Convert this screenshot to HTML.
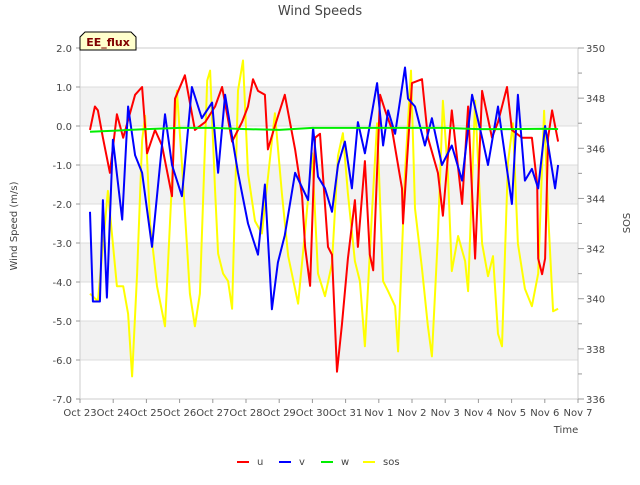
<!DOCTYPE html>
<html><head><meta charset="utf-8"><style>
body{margin:0;background:#fff;}
svg text{font-family:"DejaVu Sans","Liberation Sans",sans-serif;}
</style></head><body>
<svg id="chart" width="640" height="480" xmlns="http://www.w3.org/2000/svg">
<rect width="640" height="480" fill="#fff"/>
<g id="bands"></g>
<g id="grid"></g>
<rect x="80" y="48" width="498" height="351" fill="none" stroke="#ccc"/>
<g id="axes"></g>
<g id="series"></g>
<text x="320" y="15" text-anchor="middle" font-size="13" fill="#444">Wind Speeds</text>
<text transform="translate(17,226) rotate(-90)" text-anchor="middle" font-size="10" fill="#444">Wind Speed (m/s)</text>
<text transform="translate(630,223) rotate(-90)" text-anchor="middle" font-size="10" fill="#444">SOS</text>
<text x="566" y="433" text-anchor="middle" font-size="10" fill="#444">Time</text>
<g>
<path d="M80,50 L80,37 L85,32 L131,32 L136,37 L136,50 Z" fill="#ffffcc" stroke="#000"/>
<text x="108" y="46" text-anchor="middle" font-size="11" font-weight="bold" fill="#800000">EE_flux</text>
</g>
<g id="legend"></g>
</svg>
<script>
const xTickLabels=["Oct 23","Oct 24","Oct 25","Oct 26","Oct 27","Oct 28","Oct 29","Oct 30","Oct 31","Nov 1","Nov 2","Nov 3","Nov 4","Nov 5","Nov 6","Nov 7"];
const yTicks=[2,1,0,-1,-2,-3,-4,-5,-6,-7];
const y2Ticks=[336,338,340,342,344,346,348,350];
const uT=[0.30,0.45,0.54,0.69,0.90,1.11,1.30,1.66,1.87,2.02,2.26,2.47,2.77,2.86,3.16,3.46,3.77,4.07,4.28,4.58,4.88,5.06,5.21,5.36,5.57,5.66,5.87,6.17,6.48,6.69,6.78,6.93,7.08,7.23,7.47,7.59,7.74,7.89,8.07,8.28,8.37,8.58,8.73,8.83,9.04,9.19,9.40,9.70,9.73,10.0,10.30,10.48,10.78,10.93,11.20,11.51,11.69,11.90,12.11,12.41,12.59,12.86,13.01,13.31,13.61,13.77,13.80,13.92,14.01,14.10,14.22,14.40];
const uV=[-0.1,0.5,0.4,-0.3,-1.2,0.3,-0.3,0.8,1.0,-0.7,-0.1,-0.5,-1.8,0.7,1.3,-0.1,0.1,0.5,1.0,-0.4,0.1,0.5,1.2,0.9,0.8,-0.6,0.0,0.8,-0.6,-1.8,-3.1,-4.1,-0.3,-0.2,-3.1,-3.3,-6.3,-5.1,-3.4,-1.9,-3.1,-0.9,-3.3,-3.7,0.8,0.4,-0.1,-1.6,-2.5,1.1,1.2,-0.3,-1.2,-2.3,0.4,-2.0,0.5,-3.4,0.9,-0.3,0.1,1.0,-0.1,-0.3,-0.3,-1.5,-3.4,-3.8,-3.4,-0.3,0.4,-0.4];
const vT=[0.30,0.39,0.60,0.69,0.81,0.99,1.27,1.45,1.66,1.87,2.17,2.56,2.77,3.07,3.37,3.67,3.98,4.16,4.37,4.76,5.06,5.36,5.57,5.78,5.96,6.17,6.48,6.87,7.02,7.17,7.38,7.59,7.77,7.98,8.19,8.37,8.58,8.95,9.13,9.28,9.49,9.79,9.88,10.09,10.39,10.60,10.90,11.20,11.51,11.81,12.11,12.29,12.59,13.01,13.19,13.40,13.61,13.80,14.01,14.31,14.40];
const vV=[-2.2,-4.5,-4.5,-1.9,-4.4,-0.35,-2.4,0.5,-0.75,-1.2,-3.1,0.3,-1.0,-1.8,1.0,0.2,0.6,-1.2,0.8,-1.2,-2.5,-3.3,-1.5,-4.7,-3.5,-2.8,-1.2,-1.9,-0.05,-1.3,-1.6,-2.2,-1.0,-0.4,-1.6,0.1,-0.7,1.1,-0.5,0.4,-0.2,1.5,0.7,0.5,-0.5,0.2,-1.0,-0.5,-1.4,0.8,-0.3,-1.0,0.5,-2.0,0.8,-1.4,-1.1,-1.6,0.0,-1.6,-1.0];
const wT=[0.3,1,2,3,4,5,6,7,8,9,10,11,12,13,14,14.4];
const wV=[-0.15,-0.12,-0.08,-0.05,-0.05,-0.08,-0.1,-0.05,-0.05,-0.05,-0.05,-0.05,-0.08,-0.08,-0.07,-0.08];
const sT=[0.30,0.54,0.84,1.11,1.30,1.45,1.57,1.72,1.87,1.96,2.11,2.32,2.56,2.77,2.92,3.07,3.31,3.46,3.61,3.83,3.92,4.07,4.16,4.31,4.46,4.58,4.76,4.91,5.06,5.27,5.48,5.78,5.87,6.08,6.27,6.57,6.78,6.99,7.17,7.38,7.59,7.77,7.92,8.07,8.28,8.43,8.58,8.80,8.95,9.13,9.28,9.49,9.58,9.79,9.97,10.09,10.30,10.48,10.60,10.78,10.93,11.08,11.20,11.39,11.60,11.69,11.90,12.11,12.29,12.44,12.59,12.71,12.89,13.04,13.19,13.40,13.61,13.80,13.98,14.10,14.25,14.40];
const sV=[340.2,339.9,344.3,340.5,340.5,339.4,336.9,341.0,346.3,347.3,343.0,340.5,338.9,344.7,348.3,345.4,340.2,338.9,340.2,348.7,349.1,344.3,341.8,341.0,340.7,339.6,348.3,349.5,345.0,343.1,342.6,346.3,347.4,344.2,341.7,339.8,342.7,345.8,341.0,340.1,341.4,345.7,346.6,344.2,341.5,340.7,338.1,343.6,347.0,340.7,340.3,339.7,337.9,345.0,349.1,343.6,341.2,338.9,337.7,342.5,347.9,345.0,341.1,342.5,341.5,340.3,347.9,342.2,340.9,341.7,338.6,338.1,345.4,347.0,342.2,340.4,339.7,341.0,347.5,343.4,339.5,339.6];

const NS="http://www.w3.org/2000/svg";
const X0=80,X1=578,Y0=48,Y1=399;
const xs=d=>X0+d*(X1-X0)/15;
const ys=v=>Y0+(2-v)*(Y1-Y0)/9;
const ys2=v=>Y0+(350-v)*(Y1-Y0)/14;
function mk(tag,attrs,parent){const e=document.createElementNS(NS,tag);for(const k in attrs)e.setAttribute(k,attrs[k]);parent.appendChild(e);return e;}
const bands=document.getElementById('bands'),grid=document.getElementById('grid'),axes=document.getElementById('axes'),series=document.getElementById('series'),legend=document.getElementById('legend');
[1,-1,-3,-5].forEach(v=>{const r=mk('rect',{x:X0,y:ys(v),width:X1-X0,height:ys(v-1)-ys(v),fill:'#f2f2f2'},bands);

});
yTicks.forEach(v=>{const y=ys(v);
mk('line',{x1:X0,x2:X1,y1:y,y2:y,stroke:'#dcdcdc'},grid);
mk('line',{x1:X0-4,x2:X0,y1:y,y2:y,stroke:'#999'},axes);
const t=mk('text',{x:X0-8,y:y+4,'text-anchor':'end','font-size':10,fill:'#444'},axes);t.textContent=v.toFixed(1);

});
for(let v=336;v<=350;v++){const y=ys2(v);const maj=v%2===0;
mk('line',{x1:X1,x2:X1+(maj?6:4),y1:y,y2:y,stroke:'#999'},axes);}
y2Ticks.forEach(v=>{const t=mk('text',{x:X1+8,y:ys2(v)+4,'font-size':10,fill:'#444'},axes);t.textContent=v;

});
xTickLabels.forEach((s,i)=>{const x=xs(i);
mk('line',{x1:x,x2:x,y1:Y1,y2:Y1+4,stroke:'#999'},axes);
const t=mk('text',{x:x,y:Y1+17,'text-anchor':'middle','font-size':10,fill:'#444'},axes);t.textContent=s;

});
function line(T,V,sc,color,name,w){const d=T.map((t,i)=>(i?'L':'M')+xs(t).toFixed(1)+','+sc(V[i]).toFixed(1)).join(' ');
const p=mk('path',{d:d,fill:'none',stroke:color,'stroke-width':w,'stroke-linejoin':'round'},series);

}
line(sT,sV,ys2,'#ffff00','sos-line',2);
line(uT,uV,ys,'#ff0000','u-line',2);
line(vT,vV,ys,'#0000ff','v-line',2);
line(wT,wV,ys,'#00ee00','w-line',2);
[['u','#ff0000',237],['v','#0000ff',279],['w','#00ee00',321],['sos','#ffff00',363]].forEach(([n,c,x])=>{
const g=mk('g',{},legend);


mk('line',{x1:x,x2:x+12,y1:462,y2:462,stroke:c,'stroke-width':2},g);
const t=mk('text',{x:x+20,y:465,'font-size':10,fill:'#444'},g);t.textContent=n;});
</script>
</body></html>
